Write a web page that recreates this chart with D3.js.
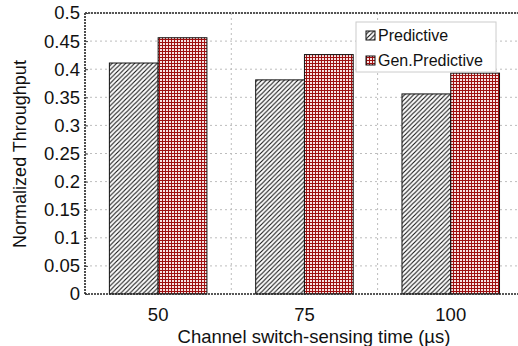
<!DOCTYPE html>
<html><head><meta charset="utf-8">
<script src="https://cdn.jsdelivr.net/npm/d3@7"></script>
<style>body{margin:0;background:#fff}svg{display:block}text{font-family:"Liberation Sans",Arial,sans-serif;fill:#111}</style>
</head><body><svg id="c" width="518" height="346"></svg>
<script>
const categories = ["50", "75", "100"];
const seriesNames = ["Predictive", "Gen.Predictive"];
const predictive = [0.411, 0.381, 0.356];
const genPredictive = [0.456, 0.426, 0.393];
const yTicks = [0, 0.05, 0.1, 0.15, 0.2, 0.25, 0.3, 0.35, 0.4, 0.45, 0.5];
const xTitle = "Channel switch-sensing time (µs)";
const yTitle = "Normalized Throughput";

const svg = d3.select("#c");
const m = {l: 85, t: 13, b: 294};
const step = 146.3;
const x = d3.scaleBand().domain(categories).range([m.l, m.l + step * categories.length]).padding(0);
const xs = d3.scaleBand().domain(seriesNames).range([0, x.bandwidth()]).paddingInner(0).paddingOuter(0.5);
const y = d3.scaleLinear().domain([0, 0.5]).range([m.b, m.t]);

const defs = svg.append("defs");
const P = 4.5;
const hatch = defs.append("pattern").attr("id", "hatch").attr("patternUnits", "userSpaceOnUse")
  .attr("width", P).attr("height", P);
hatch.append("rect").attr("width", P).attr("height", P).attr("fill", "#fff");
hatch.append("path").attr("d", `M-1,1 l2,-2 M0,${P} l${P},-${P} M${P-1},${P+1} l2,-2`).attr("stroke", "#111").attr("stroke-width", 1.1);
const grid = defs.append("pattern").attr("id", "grid").attr("patternUnits", "userSpaceOnUse")
  .attr("width", 3).attr("height", 3);
grid.append("rect").attr("width", 3).attr("height", 3).attr("fill", "#f6e4e4");
grid.append("path").attr("d", "M0,0.5 H3 M0.5,0 V3").attr("stroke", "#9e1010").attr("stroke-width", 1);

// grid lines
const gridG = svg.append("g");
gridG.selectAll("line.h").data(yTicks.slice(1)).join("line")
  .attr("x1", m.l).attr("x2", 518).attr("y1", d => y(d)).attr("y2", d => y(d))
  .attr("stroke", "#bdbdbd").attr("stroke-dasharray", "2,3");
gridG.selectAll("line.v").data(categories.slice(1)).join("line")
  .attr("x1", d => x(d)).attr("x2", d => x(d)).attr("y1", m.t).attr("y2", m.b)
  .attr("stroke", "#bdbdbd").attr("stroke-dasharray", "2,3");

// bars
const data = [predictive, genPredictive];
const fills = ["url(#hatch)", "url(#grid)"];
seriesNames.forEach((s, i) => {
  svg.append("g").selectAll("rect").data(categories).join("rect")
    .attr("x", d => x(d) + xs(s)).attr("width", xs.bandwidth())
    .attr("y", (d, j) => y(data[i][j])).attr("height", (d, j) => y(0) - y(data[i][j]))
    .attr("fill", fills[i]).attr("stroke", "#111").attr("stroke-width", 1);
});

// frame
const frame = svg.append("g").attr("fill", "none").attr("stroke", "#222").attr("stroke-width", 1.6).attr("stroke-dasharray", "2,1");
frame.append("line").attr("x1", m.l).attr("x2", 518).attr("y1", m.t).attr("y2", m.t);
frame.append("line").attr("x1", m.l).attr("x2", 518).attr("y1", m.b).attr("y2", m.b);
frame.append("line").attr("x1", m.l).attr("x2", m.l).attr("y1", m.t).attr("y2", m.b);

// y axis
const yAxis = d3.axisLeft(y).tickValues(yTicks).tickFormat(d => String(d)).tickSize(-3).tickPadding(6);
const ya = svg.append("g").attr("transform", `translate(${m.l},0)`).call(yAxis);
ya.select(".domain").remove();
ya.selectAll("line").attr("stroke", "#444");
ya.selectAll("text").style("font-size", "18.5px").attr("x", -5);

// x axis
const xAxis = d3.axisBottom(x).tickSize(0).tickPadding(13.5);
const xa = svg.append("g").attr("transform", `translate(0,${m.b})`).call(xAxis);
xa.select(".domain").remove();
xa.selectAll("text").style("font-size", "18.5px");

svg.append("text").attr("x", 314).attr("y", 342.5).attr("text-anchor", "middle").style("font-size", "18.5px").text(xTitle);
svg.append("text").attr("transform", "translate(26,154) rotate(-90)").attr("text-anchor", "middle").style("font-size", "18px").text(yTitle);

// legend
const lg = svg.append("g");
lg.append("rect").attr("x", 356).attr("y", 22).attr("width", 140).attr("height", 50).attr("fill", "#fff").attr("stroke", "#ccc");
seriesNames.forEach((s, i) => {
  const yy = 35 + i * 25;
  lg.append("rect").attr("x", 366).attr("y", yy - 4).attr("width", 9).attr("height", 9)
    .attr("fill", fills[i]).attr("stroke", "#111");
  lg.append("text").attr("x", 378).attr("y", yy + 6).style("font-size", "16px").text(s);
});
</script></body></html>
